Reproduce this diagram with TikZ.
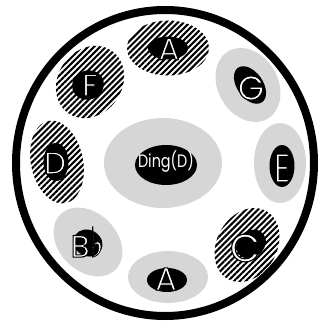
\documentclass[tikz,border=0pt]{standalone}
\usepackage{fontspec}
\usepackage{graphicx}
\setmainfont{Poppins}
\newfontfamily\symfont{DejaVu Sans}
\usetikzlibrary{shapes.geometric,patterns.meta}
\definecolor{lgray}{RGB}{214,214,214}
\newcommand\outlined[1]{\special{pdf:literal direct 2 Tr 0 G 1.1 w}#1\special{pdf:literal direct 0 Tr}}
\newcommand\thinoutlined[1]{\special{pdf:literal direct 2 Tr 0 G 0.5 w}#1\special{pdf:literal direct 0 Tr}}
\tikzset{
  hatchbox/.style={ellipse, inner sep=0pt, pattern={Lines[angle=45,distance=4.2pt,line width=2.1pt]}, pattern color=black},
  graybox/.style={ellipse, inner sep=0pt, fill=lgray},
  core/.style={ellipse, inner sep=0pt, fill=black},
  letter/.style={text=white, inner sep=0pt, font=\fontsize{31}{31}\selectfont},
}
\begin{document}
\begin{tikzpicture}[x=1pt,y=-1pt]
\useasboundingbox (0,0) rectangle (320,325);
\fill[white] (0,0) rectangle (320,325);
\draw[line width=8pt] (165,163) ellipse [x radius=149, y radius=153];
% outer halos
\node[hatchbox, minimum width=82pt, minimum height=55pt] (hA) at (168,48) {};
\node[hatchbox, minimum width=76pt, minimum height=64pt, rotate=55] (hF) at (90,82) {};
\node[graybox, minimum width=78pt, minimum height=60pt, rotate=-60] (hG) at (248,85) {};
\node[hatchbox, minimum width=84pt, minimum height=52pt, rotate=-78] (hD) at (57,162) {};
\node[graybox, minimum width=118pt, minimum height=90pt] (hDing) at (163,163) {};
\node[graybox, minimum width=52pt, minimum height=80pt] (hE) at (280,163) {};
\node[graybox, minimum width=78pt, minimum height=58pt, rotate=-45] (hB) at (88,242) {};
\node[graybox, minimum width=80pt, minimum height=52pt] (hA2) at (168,277) {};
\node[hatchbox, minimum width=78pt, minimum height=60pt, rotate=60] (hC) at (247,245) {};
% cores
\node[core, minimum width=40pt, minimum height=23pt] (A) at (168,48) {};
\node[core, minimum width=32pt, minimum height=29pt, rotate=20] (F) at (88,85) {};
\node[core, minimum width=42pt, minimum height=26pt, rotate=-55] (G) at (250,85) {};
\node[core, minimum width=25pt, minimum height=38pt] (D) at (56,162) {};
\node[core, minimum width=62pt, minimum height=40pt] (Ding) at (166,165) {};
\node[core, minimum width=25pt, minimum height=42pt] (E) at (282,166) {};
\node[core, minimum width=30pt, minimum height=26pt, rotate=-30] (B) at (88,243) {};
\node[core, minimum width=40pt, minimum height=24pt] (A2) at (167,280) {};
\node[core, minimum width=32pt, minimum height=26pt, rotate=40] (C) at (251,244) {};
% letters
\node[letter] (At) at (169,49) {\outlined{A}};
\node[letter] (Ft) at (90,85) {\outlined{F}};
\node[letter, font=\fontsize{34}{34}\selectfont] (Gt) at (251,88) {\outlined{G}};
\node[letter] (Dt) at (55,163) {\outlined{D}};
\node[letter, font=\fontsize{18}{18}\selectfont] (Dingt) at (166,162) {\scalebox{0.8}[1]{Ding(D)}};
\node[letter] (Et) at (282,168) {\scalebox{1}[1.3]{\outlined{E}}};
\node[letter] (Bt) at (87,242) {\outlined{B}\scalebox{1.1}[1.6]{\symfont\fontsize{26}{26}\selectfont\thinoutlined{♭}}};
\node[letter, font=\fontsize{32}{32}\selectfont] (A2t) at (166,279) {\outlined{A}};
\node[letter, font=\fontsize{39}{39}\selectfont] (Ct) at (245,248) {\outlined{C}};
\end{tikzpicture}
\end{document}
